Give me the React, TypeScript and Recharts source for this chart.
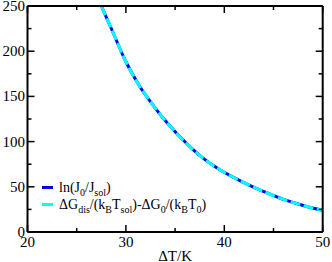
import { LineChart, Line, XAxis, YAxis } from 'recharts';

// curve (both series sit on top of each other)
const deltaT = [27.5, 28.56, 29.91, 31.43, 32.62, 33.8, 34.48, 35.49, 36.69, 37.87, 39.23, 40.58, 41.93, 43.96, 46.0, 48.03, 49.9, 50];
const lnJ = [250, 224, 190.3, 160.7, 142.4, 125.8, 117.3, 105.4, 92.6, 81.5, 71.1, 62.5, 55.0, 45.0, 36.0, 29.3, 24.3, 24.1];
const dG = [250, 224, 190.3, 160.7, 142.4, 125.8, 117.3, 105.4, 92.6, 81.5, 71.1, 62.5, 55.0, 45.0, 36.0, 29.3, 24.3, 24.1];

const xTicks = [20, 25, 30, 35, 40, 45, 50];
const yTicks = [0, 25, 50, 75, 100, 125, 150, 175, 200, 225, 250];
const xMajor = [20, 30, 40, 50];
const yMajor = [0, 50, 100, 150, 200, 250];

const data = deltaT.map((t, i) => ({ t, lnJ: lnJ[i], dG: dG[i] }));

const FONT = '"Liberation Serif", "DejaVu Serif", serif';
const BLUE = '#0000e6';
const CYAN = '#00ffff';

const BottomTick = ({ x, y, payload }: any) => {
  const major = xMajor.includes(payload.value);
  return (
    <g>
      <line x1={x} x2={x} y1={y} y2={y - (major ? 7 : 4)} stroke="#000" strokeWidth={1.5} />
      {major && (
        <text x={x} y={y + 14.5} textAnchor="middle" fontFamily={FONT} fontSize={15} fill="#000">
          {payload.value}
        </text>
      )}
    </g>
  );
};

const TopTick = ({ x, y, payload }: any) => {
  const major = xMajor.includes(payload.value);
  return <line x1={x} x2={x} y1={y} y2={y + (major ? 7 : 4)} stroke="#000" strokeWidth={1.5} />;
};

const LeftTick = ({ x, y, payload }: any) => {
  const major = yMajor.includes(payload.value);
  return (
    <g>
      <line x1={x} x2={x + (major ? 7 : 4)} y1={y} y2={y} stroke="#000" strokeWidth={1.5} />
      {major && (
        <text x={x - 2.5} y={y + 5} textAnchor="end" fontFamily={FONT} fontSize={15} fill="#000">
          {payload.value}
        </text>
      )}
    </g>
  );
};

const RightTick = ({ x, y, payload }: any) => {
  const major = yMajor.includes(payload.value);
  return <line x1={x} x2={x - (major ? 7 : 4)} y1={y} y2={y} stroke="#000" strokeWidth={1.5} />;
};

const legendItems = [
  {
    color: BLUE,
    label: (
      <>
        ln(J<sub>0</sub>/J<sub>sol</sub>)
      </>
    ),
  },
  {
    color: CYAN,
    label: (
      <>
        ΔG<sub>dis</sub>/(k<sub>B</sub>T<sub>sol</sub>)-ΔG<sub>0</sub>/(k<sub>B</sub>T<sub>0</sub>)
      </>
    ),
  },
];

const subStyle = `sub { font-size: 10px; vertical-align: -4px; line-height: 0; }`;

export default function App() {
  return (
    <div style={{ position: 'absolute', left: 0, top: 0, width: 332, height: 262, background: '#fff' }}>
      <style>{subStyle}</style>
      <LineChart width={332} height={262} data={data} margin={{ top: 5, right: 8.3, bottom: 0, left: 0 }}>
        <XAxis
          dataKey="t"
          type="number"
          domain={[20, 50]}
          ticks={xTicks}
          allowDataOverflow
          height={30}
          stroke="#000"
          strokeWidth={2}
          tickSize={0}
          tickMargin={0}
          tickLine={false}
          tick={<BottomTick />}
          interval={0}
          label={(props: any) => {
            const vb = props.viewBox;
            return (
              <text x={vb.x + vb.width / 2} y={vb.y + 28.5} textAnchor="middle" fontFamily={FONT} fontSize={15} fill="#000">
                ΔT/K
              </text>
            );
          }}
        />
        <XAxis
          xAxisId="top"
          orientation="top"
          dataKey="t"
          type="number"
          domain={[20, 50]}
          ticks={xTicks}
          allowDataOverflow
          height={1}
          stroke="#000"
          strokeWidth={2}
          tickSize={0}
          tickMargin={0}
          tickLine={false}
          tick={<TopTick />}
          interval={0}
        />
        <YAxis
          type="number"
          domain={[0, 250]}
          ticks={yTicks}
          allowDataOverflow
          width={27.5}
          stroke="#000"
          strokeWidth={2}
          tickSize={0}
          tickMargin={0}
          tickLine={false}
          tick={<LeftTick />}
          interval={0}
        />
        <YAxis
          yAxisId="right"
          orientation="right"
          type="number"
          domain={[0, 250]}
          ticks={yTicks}
          allowDataOverflow
          width={1}
          stroke="#000"
          strokeWidth={2}
          tickSize={0}
          tickMargin={0}
          tickLine={false}
          tick={<RightTick />}
          interval={0}
        />
        <Line
          dataKey="lnJ"
          type="monotone"
          stroke={BLUE}
          strokeWidth={3}
          dot={false}
          activeDot={false}
          isAnimationActive={false}
        />
        <Line
          dataKey="dG"
          type="monotone"
          stroke={CYAN}
          strokeWidth={3}
          strokeDasharray="10 3.5"
          dot={false}
          activeDot={false}
          isAnimationActive={false}
        />
      </LineChart>
      <div style={{ position: 'absolute', left: 42, top: 178.5, fontFamily: FONT, fontSize: 14, color: '#000' }}>
        {legendItems.map((item, i) => (
          <div key={i} style={{ display: 'flex', alignItems: 'center', height: 17, whiteSpace: 'nowrap' }}>
            <span style={{ display: 'inline-block', width: 11, height: 3, background: item.color, marginRight: 6 }} />
            <span style={{ lineHeight: '17px' }}>{item.label}</span>
          </div>
        ))}
      </div>
    </div>
  );
}
